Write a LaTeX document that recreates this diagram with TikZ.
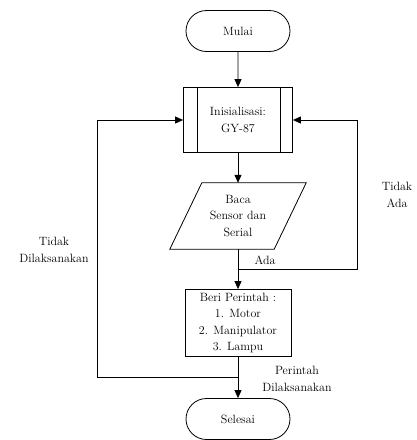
\documentclass[tikz,border=0pt]{standalone}
\usetikzlibrary{arrows.meta,shapes.misc}

\begin{document}
\begin{tikzpicture}[
    x=1pt, y=-1pt,
    font=\fontsize{12}{16.5}\selectfont,
    terminal/.style={draw=black, line width=0.8pt, rounded rectangle, minimum width=104pt, minimum height=41pt, inner sep=0pt},
    subbox/.style={draw=black, line width=0.8pt, rectangle, minimum width=109pt, minimum height=65pt, align=center, inner sep=0pt},
    iobox/.style={rectangle, minimum width=136pt, minimum height=66pt, align=center, inner sep=0pt},
    box/.style={draw=black, line width=0.8pt, rectangle, minimum width=106pt, minimum height=67pt, align=center, inner sep=0pt},
    arrow/.style={-{Triangle[length=8pt,width=7pt]}, black, line width=0.8pt},
    line/.style={black, line width=0.8pt},
    lbl/.style={align=center, inner sep=0pt}
]
\useasboundingbox (0,0) rectangle (416,440);

% Start and end
\node[terminal] (mulai)   at (238,31)  {Mulai};
\node[terminal] (selesai) at (238,419) {Selesai};

% Process boxes
\node[subbox] (init) at (238,120) {Inisialisasi:\\GY-87};
\draw[line] ([xshift=14pt]init.north west) -- ([xshift=14pt]init.south west);
\draw[line] ([xshift=-13pt]init.north east) -- ([xshift=-13pt]init.south east);
\node[iobox] (baca) at (238,216) {Baca\\Sensor dan\\Serial};
\draw[line, line join=miter] (baca.south west) -- ([xshift=32pt]baca.north west)
    -- (baca.north east) -- ([xshift=-32pt]baca.south east) -- cycle;
\node[box] (beri) at (238,323) {Beri Perintah :\\1. Motor\\2. Manipulator\\3. Lampu};

% Loop corners
\coordinate (ada)  at (238,269);
\coordinate (rbot) at (357,269);
\coordinate (rtop) at (357,120);
\coordinate (done) at (238,377);
\coordinate (lbot) at (97,377);
\coordinate (ltop) at (97,120);

% Arrows
\draw[arrow] (mulai) -- (init);
\draw[arrow] (init) -- (baca);
\draw[arrow] (baca) -- (beri);
\draw[arrow] (beri) -- (selesai);
\draw[arrow] (ada) -- (rbot) -- (rtop) -- (init.east);
\draw[arrow] (done) -- (lbot) -- (ltop) -- (init.west);

% Labels
\node[lbl] (lada)   at (265,260) {Ada};
\node[lbl] (ltidak) at (397,195) {Tidak\\Ada};
\node[lbl] (lnot)   at (54,250)  {Tidak\\Dilaksanakan};
\node[lbl] (ldone)  at (297,379) {Perintah\\Dilaksanakan};

\end{tikzpicture}
\end{document}
